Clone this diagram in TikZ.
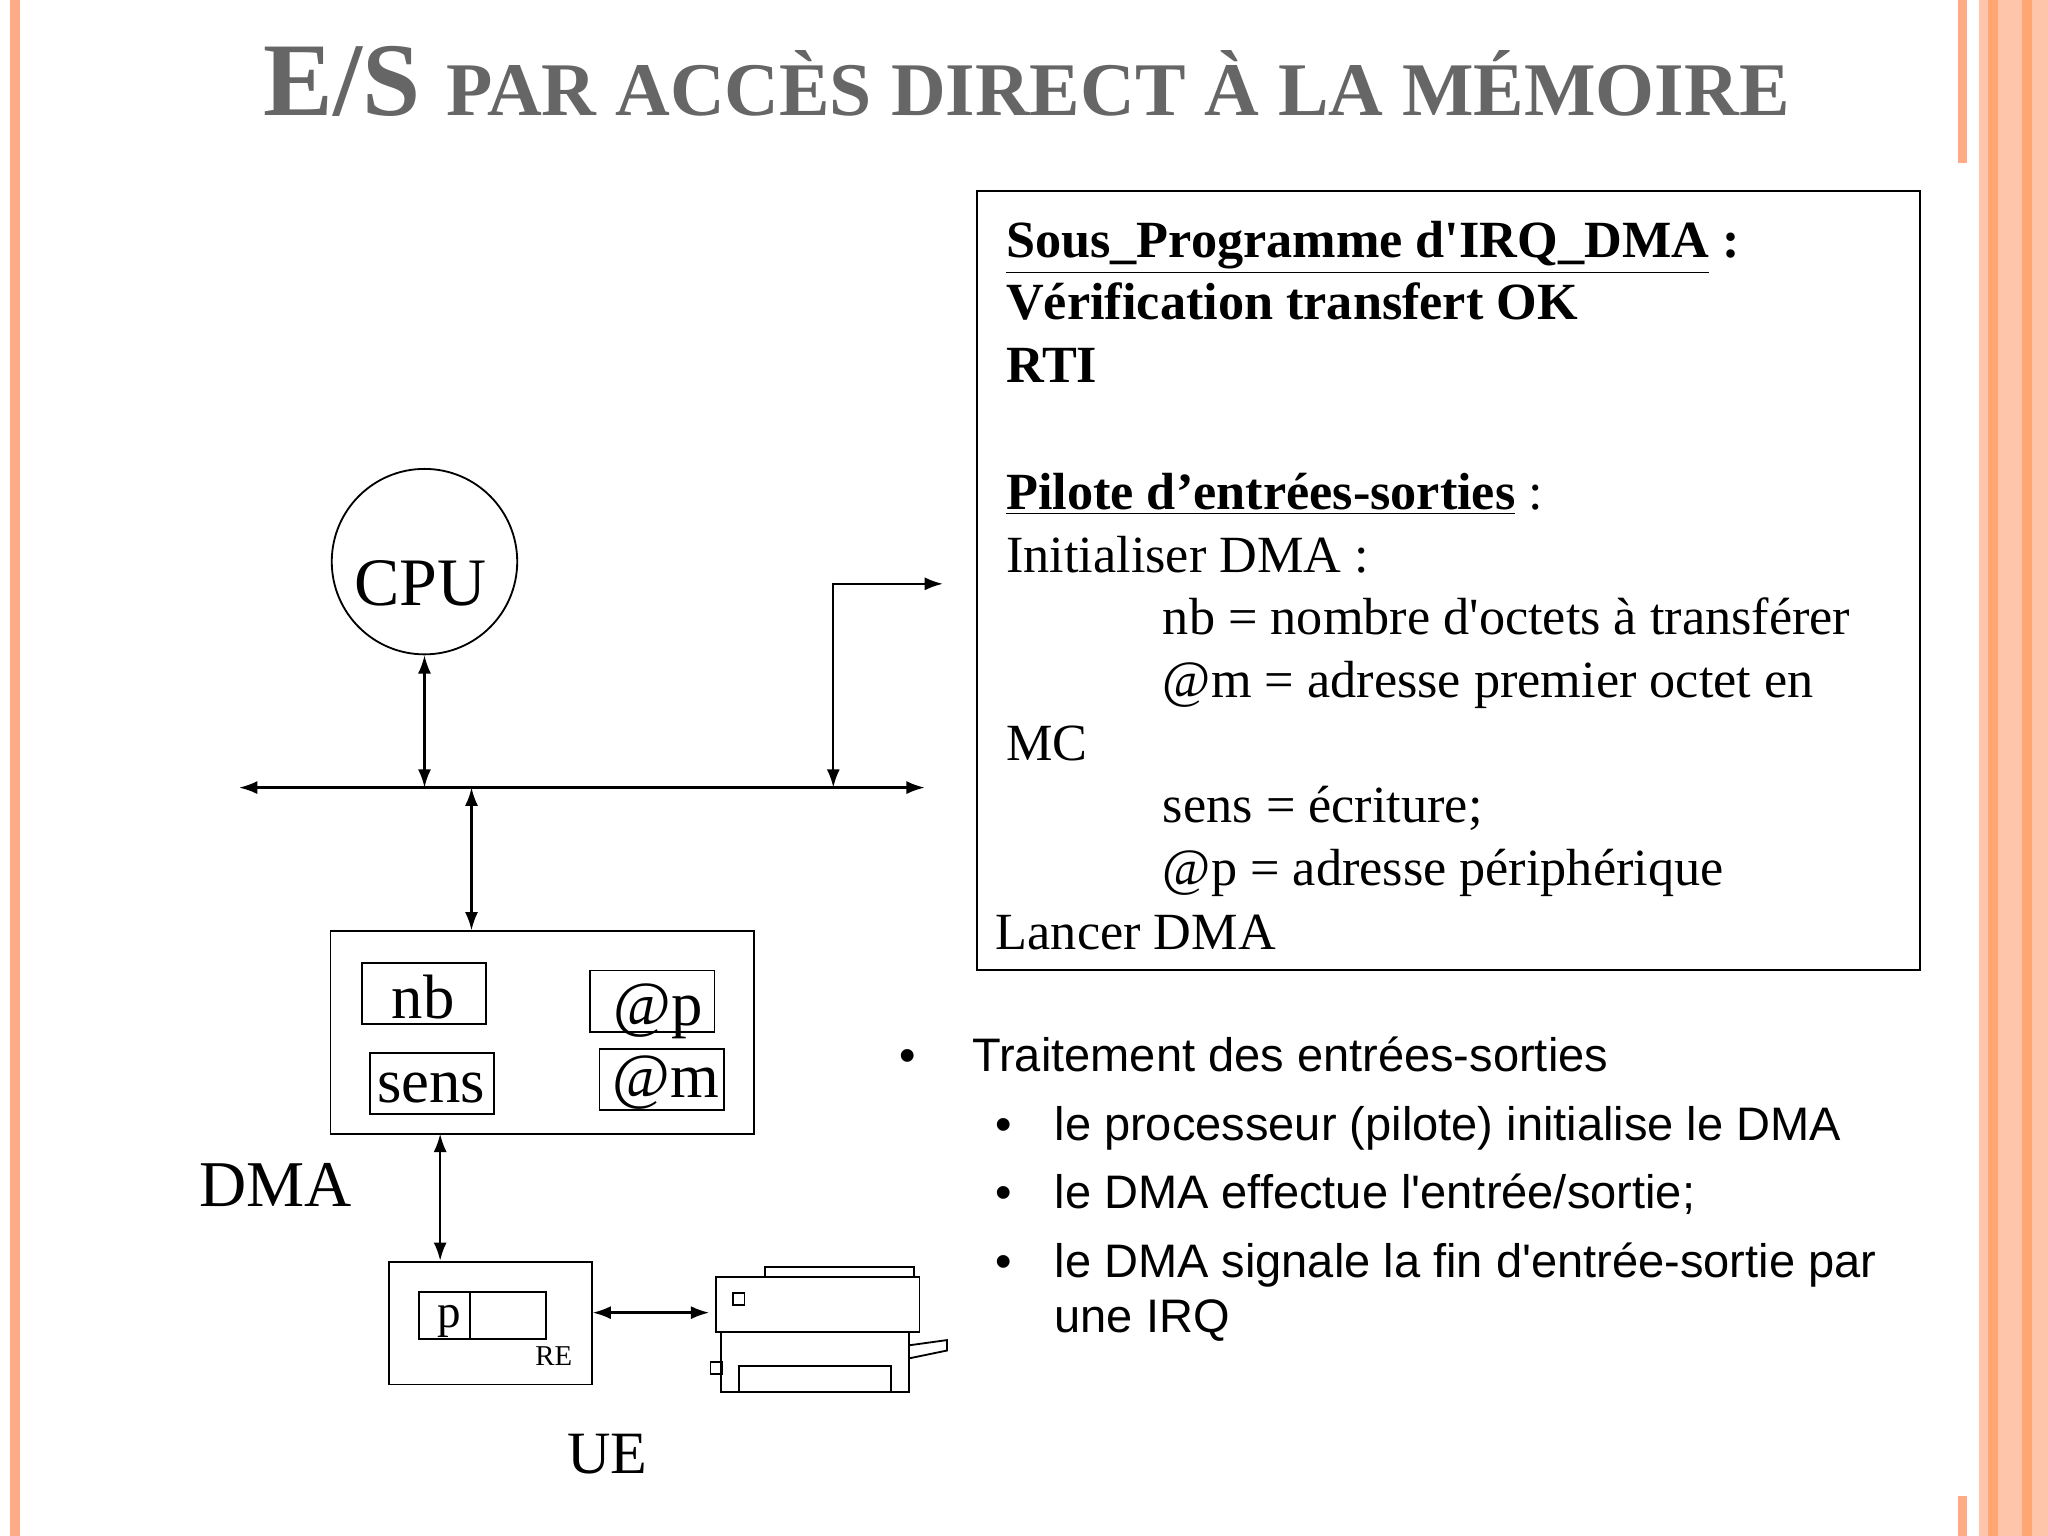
\documentclass[tikz,border=0pt]{standalone}
\usepackage{fontspec}
\setmainfont{Liberation Serif}
\newfontfamily\arialfont{Liberation Sans}
\usetikzlibrary{arrows.meta}
\tikzset{
  link/.style={{Latex[length=7pt,width=5pt]}-{Latex[length=7pt,width=5pt]}, line width=0.9pt},
  reg/.style={draw, line width=0.7pt, minimum width=47.5pt, minimum height=23.5pt, inner sep=0pt},
  regtxt/.style={font=\fontsize{24}{27}\selectfont, inner sep=0pt},
  txt/.style={anchor=base west, inner sep=0pt, font=\fontsize{20}{24}\selectfont},
  btxt/.style={txt, font=\fontsize{20}{24}\selectfont\bfseries},
  stxt/.style={anchor=base west, inner sep=0pt, font=\arialfont\fontsize{18}{22}\selectfont},
}
\begin{document}
\begin{tikzpicture}[x=0.5pt,y=-0.5pt]
  \useasboundingbox[fill=white] (0,0) rectangle (1568,1176);
  % page border
  \fill[orange!30!pink] (8,0) rectangle (15,1176);
  \fill[orange!30!pink] (1499,0) rectangle (1506,125);
  \fill[orange!30!pink] (1499,1145) rectangle (1506,1176);
  \fill[orange!30!pink!70] (1515,0) rectangle (1568,1176);
  \fill[orange!40!pink] (1522,0) rectangle (1530,1176);
  \fill[orange!40!pink] (1548,0) rectangle (1556,1176);
  % title
  \node[font=\bfseries, text=black!60, inner sep=0pt] (title) at (786,62)
    {\fontsize{40}{44}\selectfont E/S \fontsize{29}{33}\selectfont PAR ACCÈS DIRECT À LA MÉMOIRE};
  % program box
  \node[draw, line width=0.8pt, minimum width=361pt, minimum height=298.5pt, inner sep=0pt] (prog) at (1109,444.5) {};
  \node[btxt] (l1) at (770,197) {\underline{Sous\_Programme d\textquotesingle IRQ\_DMA} :};
  \node[btxt] (l2) at (770,245) {Vérification transfert OK};
  \node[btxt] (l3) at (770,293) {RTI};
  \node[txt] (l4) at (770,390) {\textbf{\underline{Pilote d’entrées-sorties}} :};
  \node[txt] (l5) at (770,438) {Initialiser DMA :};
  \node[txt] (l6) at (890,486) {nb = nombre d\textquotesingle octets à transférer};
  \node[txt] (l7) at (890,534) {@m = adresse premier octet en};
  \node[txt] (l8) at (770,582) {MC};
  \node[txt] (l9) at (890,630) {sens = écriture;};
  \node[txt] (l10) at (890,678) {@p = adresse périphérique};
  \node[txt] (l11) at (762,727) {Lancer DMA};
  % CPU and bus
  \node[draw, circle, line width=0.7pt, minimum size=71pt, inner sep=0pt] (cpu) at (325,430) {};
  \node[font=\fontsize{26}{30}\selectfont] (cputxt) at (322,447) {CPU};
  \coordinate (busl) at (183,603);
  \coordinate (busr) at (708,603);
  \draw[link] (busl) -- (busr);
  \coordinate (cpub) at (325,603);
  \draw[link] (cpu.south) -- (cpub);
  \coordinate (outb) at (638,603);
  \coordinate (oute) at (722,447);
  \draw[link] (outb) |- (oute);
  % DMA
  \node[draw, line width=0.7pt, minimum width=162pt, minimum height=77.5pt, inner sep=0pt] (dma) at (415,790.5) {};
  \coordinate (dmab) at (361,603);
  \draw[link] (dmab) -- (dma.north -| dmab);
  \node[reg] (nb) at (324.5,760.5) {};
  \node[regtxt] at (324,763) {nb};
  \node[reg] (ap) at (499.5,766.5) {};
  \node[regtxt] at (504,774) {@p};
  \node[reg] (sens) at (330.5,829.5) {};
  \node[regtxt] at (330,833) {sens};
  \node[reg] (am) at (506.5,826.5) {};
  \node[regtxt] at (510,829) {@m};
  \node[font=\fontsize{25}{28}\selectfont] (dmatxt) at (211,907) {DMA};
  % UE
  \node[draw, line width=0.7pt, minimum width=77.5pt, minimum height=47pt, inner sep=0pt] (ue) at (375.5,1013) {};
  \coordinate (uet) at (337,868);
  \draw[link] (uet) -- (ue.north -| uet);
  \node[draw, line width=0.6pt, minimum width=48.5pt, minimum height=18pt, inner sep=0pt] (re) at (369.5,1007) {};
  \draw[line width=0.6pt] (360,989) -- (360,1025);
  \node[font=\fontsize{18}{20}\selectfont] at (344,1012) {p};
  \node[font=\fontsize{11}{12}\selectfont] at (424,1038) {RE};
  \node[font=\fontsize{23}{26}\selectfont] (uetxt) at (465,1113) {UE};
  % printer
  \coordinate (prn) at (543,1005);
  \draw[link] (ue.east |- prn) -- (prn);
  \begin{scope}[line width=0.7pt]
    \draw (586,970) rectangle (700,978);
    \draw (548,978) rectangle (704,1020);
    \draw (552,1020) rectangle (696,1066);
    \draw (566,1046) rectangle (682,1066);
    \draw (561,990) rectangle (570,999);
    \draw (544,1043) rectangle (553,1052);
    \draw (696,1030) -- (725,1026) -- (725,1034) -- (696,1040);
  \end{scope}
  % bullets
  \node[stxt] (b1) at (688,820) {•};
  \node[stxt] (t1) at (744,820) {Traitement des entrées-sorties};
  \node[stxt] (b2) at (762,873) {•};
  \node[stxt] (t2) at (807,873) {le processeur (pilote) initialise le DMA};
  \node[stxt] (b3) at (762,925) {•};
  \node[stxt] (t3) at (807,925) {le DMA effectue l'entrée/sortie;};
  \node[stxt] (b4) at (762,978) {•};
  \node[stxt] (t4) at (807,978) {le DMA signale la fin d'entrée-sortie par};
  \node[stxt] (t5) at (807,1020) {une IRQ};
\end{tikzpicture}
\end{document}
